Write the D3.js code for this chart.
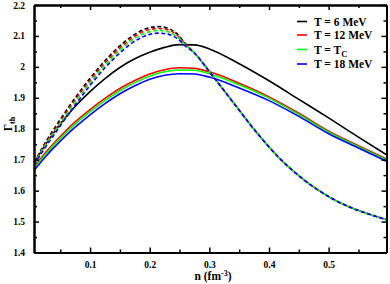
<!DOCTYPE html>
<html>
<head>
<meta charset="utf-8">
<script src="https://cdn.jsdelivr.net/npm/d3@7"></script>
<style>
body { margin: 0; background: #fff; }
text { font-family: "Liberation Serif", "DejaVu Serif", serif; font-weight: bold; }
</style>
</head>
<body>
<svg id="chart" width="390" height="284"></svg>
<script>
// density grid (fm^-3) for the solid curves
var nSolid = [0.006, 0.025, 0.05, 0.075, 0.1, 0.125, 0.15, 0.175, 0.2, 0.225, 0.25, 0.275, 0.3, 0.35, 0.4, 0.45, 0.5, 0.55, 0.597];
var solidT6  = [1.688, 1.748, 1.815, 1.872, 1.920, 1.962, 1.998, 2.026, 2.047, 2.063, 2.072, 2.071, 2.058, 2.010, 1.955, 1.895, 1.835, 1.773, 1.716];
var solidT12 = [1.675, 1.722, 1.775, 1.822, 1.862, 1.898, 1.930, 1.956, 1.977, 1.991, 1.997, 1.995, 1.984, 1.947, 1.903, 1.850, 1.792, 1.745, 1.702];
var solidTc  = [1.672, 1.717, 1.769, 1.815, 1.855, 1.891, 1.923, 1.949, 1.970, 1.984, 1.990, 1.989, 1.978, 1.942, 1.899, 1.846, 1.789, 1.742, 1.699];
var solidT18 = [1.665, 1.709, 1.760, 1.805, 1.845, 1.881, 1.913, 1.939, 1.960, 1.973, 1.978, 1.977, 1.967, 1.932, 1.891, 1.840, 1.784, 1.738, 1.695];

// density grid for the dashed curves
var nDash = [0.006, 0.025, 0.05, 0.075, 0.1, 0.125, 0.15, 0.175, 0.2, 0.215, 0.23, 0.245, 0.262, 0.275, 0.29, 0.3, 0.318, 0.346, 0.37, 0.396, 0.42, 0.452, 0.48, 0.508, 0.535, 0.563, 0.597];
var dashT6  = [1.690, 1.755, 1.830, 1.900, 1.963, 2.020, 2.068, 2.105, 2.127, 2.130, 2.125, 2.108, 2.070, 2.045, 2.010, 1.985, 1.940, 1.870, 1.810, 1.750, 1.700, 1.645, 1.605, 1.572, 1.547, 1.527, 1.506];
var dashT12 = [1.688, 1.750, 1.823, 1.893, 1.956, 2.013, 2.061, 2.099, 2.121, 2.124, 2.120, 2.104, 2.069, 2.045, 2.010, 1.985, 1.940, 1.870, 1.810, 1.750, 1.700, 1.645, 1.605, 1.572, 1.547, 1.527, 1.506];
var dashTc  = [1.686, 1.746, 1.817, 1.886, 1.949, 2.006, 2.054, 2.092, 2.114, 2.118, 2.114, 2.099, 2.067, 2.045, 2.010, 1.985, 1.940, 1.870, 1.810, 1.750, 1.700, 1.645, 1.605, 1.572, 1.547, 1.527, 1.506];
var dashT18 = [1.683, 1.740, 1.809, 1.877, 1.940, 1.997, 2.045, 2.083, 2.105, 2.109, 2.106, 2.093, 2.064, 2.045, 2.010, 1.985, 1.940, 1.870, 1.810, 1.750, 1.700, 1.645, 1.605, 1.572, 1.547, 1.527, 1.506];

var xTicks = [0.1, 0.2, 0.3, 0.4, 0.5];
var xMinor = [0.05, 0.15, 0.25, 0.35, 0.45, 0.55];
var yTicks = [1.4, 1.5, 1.6, 1.7, 1.8, 1.9, 2, 2.1, 2.2];
var yMinor = [1.45, 1.55, 1.65, 1.75, 1.85, 1.95, 2.05, 2.15];

var seriesNames = ["T = 6 MeV", "T = 12 MeV", "T = T", "T = 18 MeV"];
var seriesColors = ["#000000", "#ff0000", "#00ff00", "#0000ff"];

var margin = {top: 5, right: 3.5, bottom: 31.5, left: 34},
    W = 390, H = 284,
    w = W - margin.left - margin.right,
    h = H - margin.top - margin.bottom;

var svg = d3.select('#chart');
var g = svg.append('g').attr('transform', 'translate(' + margin.left + ',' + margin.top + ')');

var x = d3.scaleLinear().domain([0.006, 0.597]).range([0, w]);
var y = d3.scaleLinear().domain([1.4, 2.2]).range([h, 0]);

var clip = svg.append('clipPath').attr('id', 'clip').append('rect').attr('width', w).attr('height', h);

var plot = g.append('g').attr('clip-path', 'url(#clip)');

var line = d3.line().curve(d3.curveMonotoneX);

function drawSeries(nArr, vals, color, dashed) {
	var pts = nArr.map(function(n, i) { return [x(n), y(vals[i])]; });
	plot.append('path').attr('d', line(pts)).attr('fill', 'none').attr('stroke', color).attr('stroke-width', 1.6)
		.attr('stroke-dasharray', dashed ? '4,2.5' : null);
}

var solids = [solidT6, solidT12, solidTc, solidT18];
var dashes = [dashT6, dashT12, dashTc, dashT18];
solids.forEach(function(s, i) { drawSeries(nSolid, s, seriesColors[i], false); });
dashes.forEach(function(s, i) { drawSeries(nDash, s, seriesColors[i], true); });

// axes, ticks pointing inward on all four sides
function tickAxis(axisFn, scale, vals, len, tr, labels) {
	var a = axisFn(scale).tickValues(vals).tickSizeInner(-len).tickSizeOuter(0);
	if (labels) a.tickFormat(d3.format('')).tickPadding(len + 4); else a.tickFormat('');
	var sel = g.append('g').attr('transform', tr).call(a);
	sel.select('.domain').attr('stroke', '#000').attr('stroke-width', 2);
	sel.selectAll('.tick line').attr('stroke', '#000').attr('stroke-width', 1.5);
	sel.selectAll('text').style('font-size', '9.5px').attr('fill', '#000');
	return sel;
}
tickAxis(d3.axisBottom, x, xTicks, 5, 'translate(0,' + h + ')', true);
tickAxis(d3.axisBottom, x, xMinor, 3, 'translate(0,' + h + ')', false);
tickAxis(d3.axisTop, x, xTicks, 5, 'translate(0,0)', false);
tickAxis(d3.axisTop, x, xMinor, 3, 'translate(0,0)', false);
tickAxis(d3.axisLeft, y, yTicks, 5, 'translate(0,0)', true);
tickAxis(d3.axisLeft, y, yMinor, 3, 'translate(0,0)', false);
tickAxis(d3.axisRight, y, yTicks, 5, 'translate(' + w + ',0)', false);
tickAxis(d3.axisRight, y, yMinor, 3, 'translate(' + w + ',0)', false);

// axis titles
var xt = svg.append('text').attr('x', 213).attr('y', 280).attr('text-anchor', 'middle').style('font-size', '11.5px');
xt.append('tspan').text('n (fm');
xt.append('tspan').attr('dy', -4).style('font-size', '8px').text('-3');
xt.append('tspan').attr('dy', 4).text(')');

var yt = svg.append('text').attr('transform', 'translate(12,124) rotate(-90)').attr('text-anchor', 'middle').style('font-size', '11.5px');
yt.append('tspan').text('Γ');
yt.append('tspan').attr('dy', 2.5).style('font-size', '8px').text('th');

// legend
var legendY = [21.5, 35, 49.5, 64];
var leg = svg.append('g');
seriesNames.forEach(function(name, i) {
	leg.append('line').attr('x1', 297).attr('x2', 307).attr('y1', legendY[i]).attr('y2', legendY[i])
		.attr('stroke', seriesColors[i]).attr('stroke-width', 1.6);
	var t = leg.append('text').attr('x', 314).attr('y', legendY[i] + 4.2).style('font-size', '11.5px').text(name);
	if (i === 2) t.append('tspan').attr('dy', 3).style('font-size', '8.5px').text('C');
});
</script>
</body>
</html>
